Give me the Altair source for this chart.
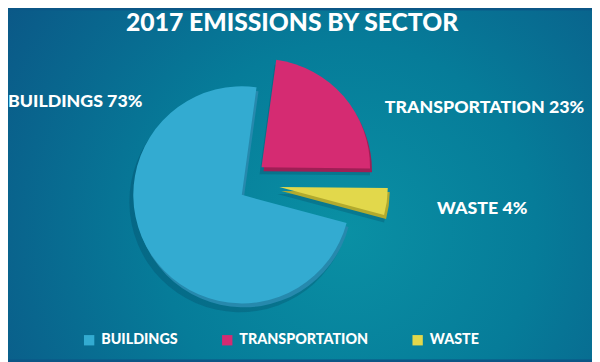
import math
import altair as alt
import pandas as pd

# ---- data ----
categories = ["Buildings", "Transportation", "Waste"]
shares = [73, 23, 4]
label_texts = ["BUILDINGS 73%", "TRANSPORTATION 23%", "WASTE 4%"]
title_text = "2017 EMISSIONS BY SECTOR"

# ---- style / layout ----
W, H = 592, 354
CX, CY, R = 237, 187, 110
ROT = math.radians(7.8)
pie_order = ["Transportation", "Waste", "Buildings"]
explode = {"Buildings": (0, 0), "Transportation": (20, -28), "Waste": (38, -8)}
label_pos = {"Buildings": (0, 93), "Transportation": (382, 99), "Waste": (435, 201)}
top_colors = ["#33abd1", "#d52b72", "#e2d84b"]
side_colors = ["#2689ad", "#9e1f55", "#b2aa2e"]
FONT = "Lato"

df = pd.DataFrame({"category": categories, "share": shares, "label": label_texts})
df["ord"] = df["category"].map(pie_order.index)
df = df.sort_values("ord")
df["end"] = df["share"].cumsum()
df["start"] = df["end"] - df["share"]
df["cx"] = [CX + explode[c][0] for c in df["category"]]
df["cy"] = [CY + explode[c][1] for c in df["category"]]
df["lx"] = [label_pos[c][0] for c in df["category"]]
df["ly"] = [label_pos[c][1] for c in df["category"]]

xs = alt.Scale(domain=[0, W], range=[0, W], nice=False, zero=False)
ys = alt.Scale(domain=[0, H], range=[0, H], nice=False, zero=False)
ts = alt.Scale(domain=[0, 100], range=[ROT, ROT + 2 * math.pi])

base = alt.Chart(df)

bg = alt.Chart(alt.Data(values=[{"a": 1}])).mark_rect(
    fill=alt.RadialGradient(
        gradient="radial",
        stops=[
            alt.GradientStop(color="#0a90a4", offset=0),
            alt.GradientStop(color="#067c99", offset=0.45),
            alt.GradientStop(color="#0b5686", offset=1),
        ],
        x1=0.58, y1=0.58, x2=0.58, y2=0.58, r1=0, r2=0.72,
    )
).encode(x=alt.value(0), x2=alt.value(W), y=alt.value(0), y2=alt.value(H))

arc_enc = dict(
    x=alt.X("cx:Q", scale=xs, axis=None),
    y=alt.Y("cy:Q", scale=ys, axis=None),
    theta=alt.Theta("start:Q", scale=ts),
    theta2=alt.Theta2("end:Q"),
)

shadow = base.mark_arc(radius=R + 2, xOffset=-2, yOffset=7, fill="#04334f", opacity=0.22).encode(**arc_enc)

side = base.mark_arc(radius=R, xOffset=2, yOffset=4).encode(
    color=alt.Color("category:N", scale=alt.Scale(domain=categories, range=side_colors), legend=None),
    **arc_enc,
)

top = base.mark_arc(radius=R).encode(
    color=alt.Color(
        "category:N",
        scale=alt.Scale(domain=categories, range=top_colors),
        legend=alt.Legend(
            title=None,
            orient="none",
            legendX=75,
            legendY=327,
            padding=0,
            direction="horizontal",
            symbolType="square",
            symbolSize=110,
            symbolStrokeWidth=0,
            symbolOpacity=1,
            labelFont=FONT,
            labelFontWeight=900,
            labelFontSize=14.5,
            labelColor="white",
            labelOffset=5,
            columnPadding=42,
            labelExpr="upper(datum.label)",
        ),
    ),
    **arc_enc,
)

labels = base.mark_text(
    align="left", baseline="middle", font=FONT, fontWeight=900, fontSize=18, color="white",
).encode(
    x=alt.X("lx:Q", scale=xs, axis=None),
    y=alt.Y("ly:Q", scale=ys, axis=None),
    text="label:N",
)

tdata = alt.Data(values=[{"t": title_text}])
title = alt.Chart(tdata).mark_text(
    align="center", baseline="top", font=FONT, fontWeight=900, fontSize=25, color="white",
).encode(x=alt.value(W / 2 - 8), y=alt.value(1), text="t:N")

chart = (
    alt.layer(bg, shadow, side, top, labels, title)
    .resolve_scale(color="independent")
    .properties(width=W, height=H, autosize=alt.AutoSizeParams(type="none"), padding=0,
                background="#0b5686")
    .configure_view(strokeWidth=0)
)

chart.save("out.html", embed_options={"renderer": "svg", "actions": False})
